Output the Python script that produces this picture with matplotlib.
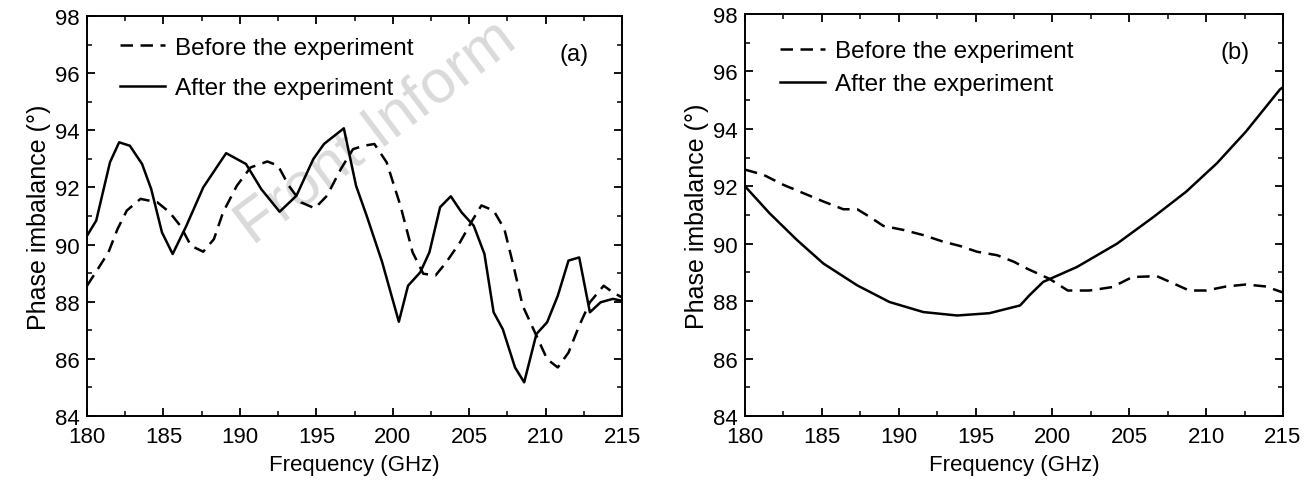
import numpy as np
import matplotlib.pyplot as plt
from matplotlib.ticker import MultipleLocator

plt.rcParams['font.family'] = ['Liberation Sans', 'DejaVu Sans']

# panel (a)
a_before_f = [180.0, 180.7, 181.4, 182.0, 182.6, 183.5, 184.6, 185.4, 186.1, 186.8, 187.6,
              188.3, 188.9, 189.8, 190.7, 191.8, 192.5, 193.2, 194.0, 194.9, 195.7, 196.6,
              197.4, 198.1, 198.8, 199.6, 200.5, 201.3, 202.0, 202.8, 203.5, 204.4, 205.2,
              205.8, 206.6, 207.3, 207.9, 208.5, 209.3, 210.1, 210.8, 211.5, 212.2, 212.9,
              213.8, 214.4, 215.0]
a_before_v = [88.56, 89.14, 89.73, 90.55, 91.19, 91.60, 91.48, 91.13, 90.66, 89.96, 89.75,
              90.19, 91.13, 92.06, 92.70, 92.91, 92.76, 92.06, 91.48, 91.27, 91.71, 92.64,
              93.34, 93.46, 93.52, 92.88, 91.37, 89.73, 88.98, 88.92, 89.38, 90.08, 90.84,
              91.37, 91.19, 90.55, 89.26, 87.86, 86.93, 85.99, 85.70, 86.22, 87.16, 87.98,
              88.56, 88.33, 88.15]

a_after_f = [180.0, 180.6, 181.5, 182.1, 182.8, 183.6, 184.2, 184.9, 185.6, 186.5, 187.6,
             189.1, 190.4, 191.4, 192.6, 193.7, 194.8, 195.5, 196.8, 197.6, 198.3, 199.3,
             200.4, 201.0, 201.8, 202.4, 203.1, 203.8, 204.5, 205.3, 206.0, 206.6, 207.2,
             208.0, 208.6, 209.4, 210.1, 210.8, 211.5, 212.2, 212.9, 213.6, 214.4, 215.0]
a_after_v = [90.31, 90.84, 92.88, 93.58, 93.46, 92.82, 91.94, 90.43, 89.67, 90.66, 92.00,
             93.20, 92.82, 91.94, 91.15, 91.71, 92.99, 93.52, 94.07, 92.06, 91.00, 89.40,
             87.30, 88.56, 89.03, 89.73, 91.31, 91.69, 91.13, 90.66, 89.67, 87.63, 87.04,
             85.70, 85.18, 86.87, 87.28, 88.21, 89.44, 89.55, 87.63, 87.98, 88.10, 88.03]

# panel (b)
b_before_f = [180.0, 181.2, 182.5, 183.8, 185.1, 186.4, 187.3, 188.1, 189.0, 190.3, 191.6,
              192.9, 194.0, 195.1, 196.4, 197.5, 198.4, 199.8, 201.0, 202.4, 203.9, 205.2,
              206.8, 207.9, 208.9, 210.0, 211.3, 212.6, 213.9, 215.0]
b_before_v = [92.58, 92.40, 92.05, 91.76, 91.47, 91.20, 91.20, 90.94, 90.62, 90.48, 90.30,
              90.07, 89.92, 89.72, 89.60, 89.37, 89.12, 88.78, 88.37, 88.37, 88.49, 88.84,
              88.87, 88.61, 88.37, 88.37, 88.51, 88.58, 88.51, 88.30]

b_after_f = [180.0, 181.6, 183.4, 185.1, 187.3, 189.4, 191.6, 193.8, 195.9, 197.9, 198.5,
             199.4, 201.6, 204.2, 206.6, 208.7, 210.7, 212.6, 214.8, 215.0]
b_after_v = [92.00, 91.06, 90.12, 89.31, 88.55, 87.97, 87.62, 87.50, 87.58, 87.85, 88.20,
             88.67, 89.19, 90.00, 90.94, 91.81, 92.80, 93.91, 95.37, 95.45]

fig = plt.figure(figsize=(13.07, 4.85), dpi=100)
ax1 = fig.add_axes([0.0666, 0.1402, 0.4093, 0.8247])
ax2 = fig.add_axes([0.570, 0.1402, 0.4116, 0.8289])

# watermark behind the curves
ax1.text(0.54, 0.71, 'Front Inform', transform=ax1.transAxes, fontsize=44,
         color='#dadada', rotation=37, ha='center', va='center', zorder=0)

panels = [(ax1, a_before_f, a_before_v, a_after_f, a_after_v, '(a)', (0.062, 0.948), 0.75),
          (ax2, b_before_f, b_before_v, b_after_f, b_after_v, '(b)', (0.065, 0.935), 0.46)]

for ax, bf, bv, af, av, tag, anchor, lsp in panels:
    ax.plot(bf, bv, color='black', lw=1.8, dashes=(5, 3), label='Before the experiment')
    ax.plot(af, av, color='black', lw=1.8, label='After the experiment')
    ax.set_xlim(180, 215)
    ax.set_ylim(84, 98)
    ax.xaxis.set_major_locator(MultipleLocator(5))
    ax.xaxis.set_minor_locator(MultipleLocator(2.5))
    ax.yaxis.set_major_locator(MultipleLocator(2))
    ax.yaxis.set_minor_locator(MultipleLocator(1))
    ax.tick_params(which='both', direction='in', top=True, right=True, labelsize=16)
    ax.tick_params(axis='x', pad=7)
    ax.tick_params(axis='y', pad=5)
    ax.tick_params(which='major', length=6, width=1.3)
    ax.tick_params(which='minor', length=3.5, width=1.1)
    for s in ax.spines.values():
        s.set_linewidth(1.4)
    ax.set_xlabel('Frequency (GHz)', fontsize=16, labelpad=5)
    ax.set_ylabel('Phase imbalance (°)', fontsize=18, labelpad=3)
    ax.legend(loc='upper left', frameon=False, fontsize=17.5, handlelength=1.85,
              handletextpad=0.4, labelspacing=lsp, borderpad=0, borderaxespad=0,
              bbox_to_anchor=anchor)
    ax.text(0.911, 0.905, tag, transform=ax.transAxes, fontsize=17,
            ha='center', va='center')

plt.savefig('out.png', dpi=100)
